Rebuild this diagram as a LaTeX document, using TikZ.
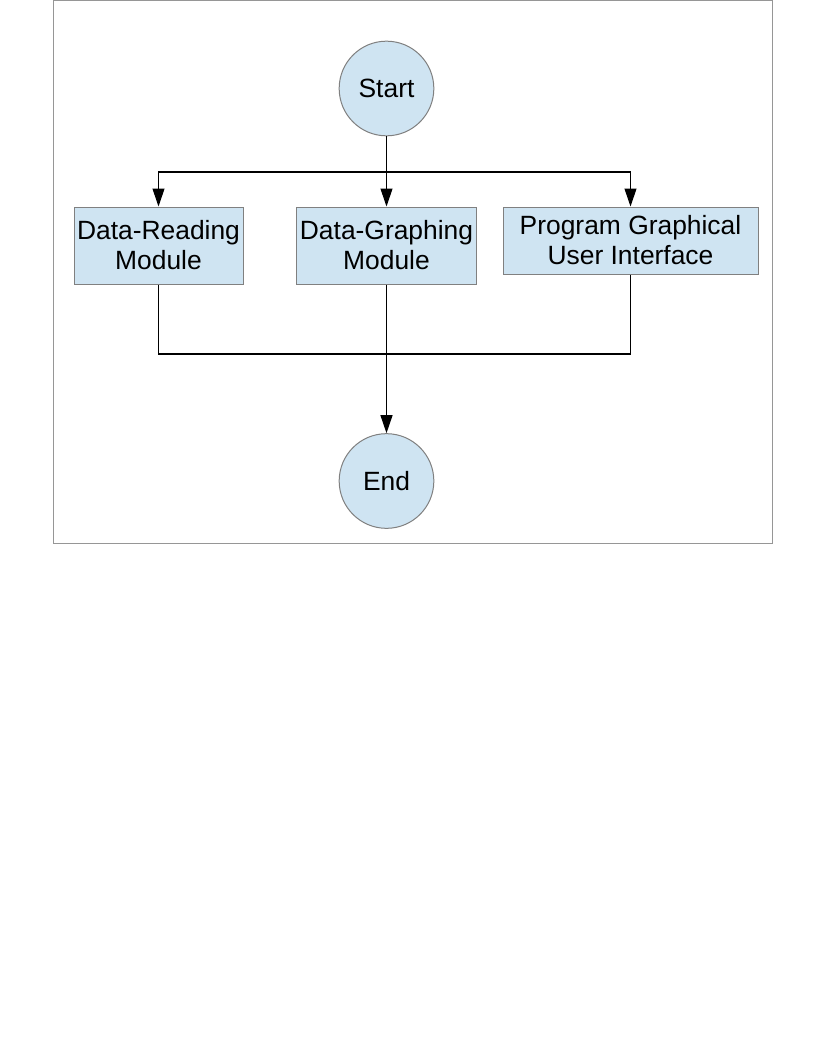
\documentclass[tikz,border=0pt]{standalone}
\usepackage{fontspec}
\setmainfont{Liberation Sans}
\usetikzlibrary{arrows.meta}
\definecolor{fillblue}{RGB}{207,228,242}
\definecolor{edgegray}{RGB}{128,128,128}
\definecolor{framegray}{RGB}{150,150,150}
\tikzset{
  flowtext/.style={font=\fontsize{19.8}{22.5}\selectfont, text=black},
  termnode/.style={flowtext, circle, draw=edgegray, fill=fillblue, line width=0.75pt, minimum size=71pt, inner sep=0pt},
  modbox/.style={flowtext, rectangle, draw=edgegray, fill=fillblue, line width=0.75pt, align=center, inner sep=0pt},
  conn/.style={draw=black, line width=0.8pt},
  arr/.style={conn, -{Triangle[length=13.5pt, width=9pt]}},
}
\begin{document}
\begin{tikzpicture}[x=0.75pt, y=-0.75pt]
\useasboundingbox (0,0) rectangle (816,1056);
\fill[white] (0,0) rectangle (816,1056);
\draw[framegray, line width=0.75pt] (53,1) rectangle (772,543);

\node[termnode] (start) at (386.5,88.5) {Start};
\node[modbox, minimum width=126.75pt, minimum height=57.75pt] (read) at (158.5,245.5) {Data-Reading\\Module};
\node[modbox, minimum width=135pt, minimum height=57.75pt] (graph) at (386.5,245.5) {Data-Graphing\\Module};
\node[modbox, minimum width=191.25pt, minimum height=50.25pt] (gui) at (630.5,240.5) {Program Graphical\\User Interface};
\node[termnode] (end) at (386.5,481) {End};

\coordinate (split) at (386.5,172);
\coordinate (merge) at (386.5,354);

\draw[conn] (start.south) -- (split);
\draw[arr] (split) -| (read.north);
\draw[arr] (split) -- (graph.north);
\draw[arr] (split) -| (gui.north);
\draw[conn] (read.south) |- (merge);
\draw[conn] (gui.south) |- (merge);
\draw[arr] (graph.south) -- (end.north);
\end{tikzpicture}
\end{document}
